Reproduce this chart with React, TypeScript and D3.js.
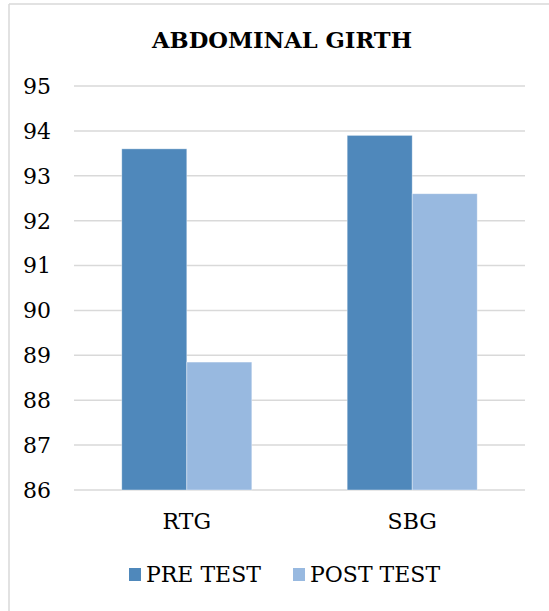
import React from "react";
import * as d3 from "d3";

const categories = ["RTG", "SBG"];
const seriesNames = ["PRE TEST", "POST TEST"];
const preTest = [93.6, 93.9];
const postTest = [88.85, 92.6];
const yTicks = [86, 87, 88, 89, 90, 91, 92, 93, 94, 95];
const colors = ["#4F88BB", "#98B9E0"];

const W = 549;
const H = 611;
const plot = { left: 74, right: 525, top: 86, bottom: 490 };
const font = "'DejaVu Serif', serif";
const textStyle = { fontFamily: font };

export default function App() {
  const x0 = d3
    .scaleBand<string>()
    .domain(categories)
    .range([plot.left, plot.right])
    .paddingInner(0.423)
    .paddingOuter(0.212);
  const x1 = d3
    .scaleBand<string>()
    .domain(seriesNames)
    .range([0, x0.bandwidth()]);
  const y = d3.scaleLinear().domain([86, 95]).range([plot.bottom, plot.top]);
  const series = [preTest, postTest];

  return (
    <svg
      width={W}
      height={H}
      style={{ position: "absolute", left: 0, top: 0, background: "#fff" }}
    >
      <line x1={9} y1={4} x2={W} y2={4} stroke="#D9D9D9" strokeWidth={1.5} />
      <line x1={9} y1={4} x2={9} y2={H} stroke="#D9D9D9" strokeWidth={1.5} />

      <text
        x={282}
        y={48}
        textAnchor="middle"
        fontSize={22}
        fontWeight="bold"
        fill="#000"
        style={textStyle}
        textLength={260}
        lengthAdjust="spacingAndGlyphs"
      >
        ABDOMINAL GIRTH
      </text>

      {yTicks.map((t) => (
        <g key={t}>
          <line
            x1={plot.left}
            x2={plot.right}
            y1={y(t)}
            y2={y(t)}
            stroke="#D9D9D9"
            strokeWidth={1.5}
          />
          <text
            x={51}
            y={y(t)}
            dy="0.36em"
            textAnchor="end"
            fontSize={22}
            fill="#000"
            style={textStyle}
          >
            {t}
          </text>
        </g>
      ))}

      {categories.map((c, i) => (
        <g key={c} transform={`translate(${x0(c)},0)`}>
          {seriesNames.map((s, j) => (
            <rect
              key={s}
              x={x1(s)}
              y={y(series[j][i])}
              width={x1.bandwidth()}
              height={y(86) - y(series[j][i])}
              fill={colors[j]}
              stroke="#fff"
              strokeOpacity={0.5}
              strokeWidth={0.75}
            />
          ))}
          <text
            x={x0.bandwidth() / 2}
            y={529}
            textAnchor="middle"
            fontSize={22}
            fill="#000"
            style={textStyle}
          >
            {c}
          </text>
        </g>
      ))}

      {seriesNames.map((s, j) => {
        const lx = j === 0 ? 129 : 293;
        return (
          <g key={s}>
            <rect x={lx} y={568} width={12} height={13} fill={colors[j]} />
            <text x={lx + 17} y={582} fontSize={22} fill="#000" style={textStyle}>
              {s}
            </text>
          </g>
        );
      })}
    </svg>
  );
}
